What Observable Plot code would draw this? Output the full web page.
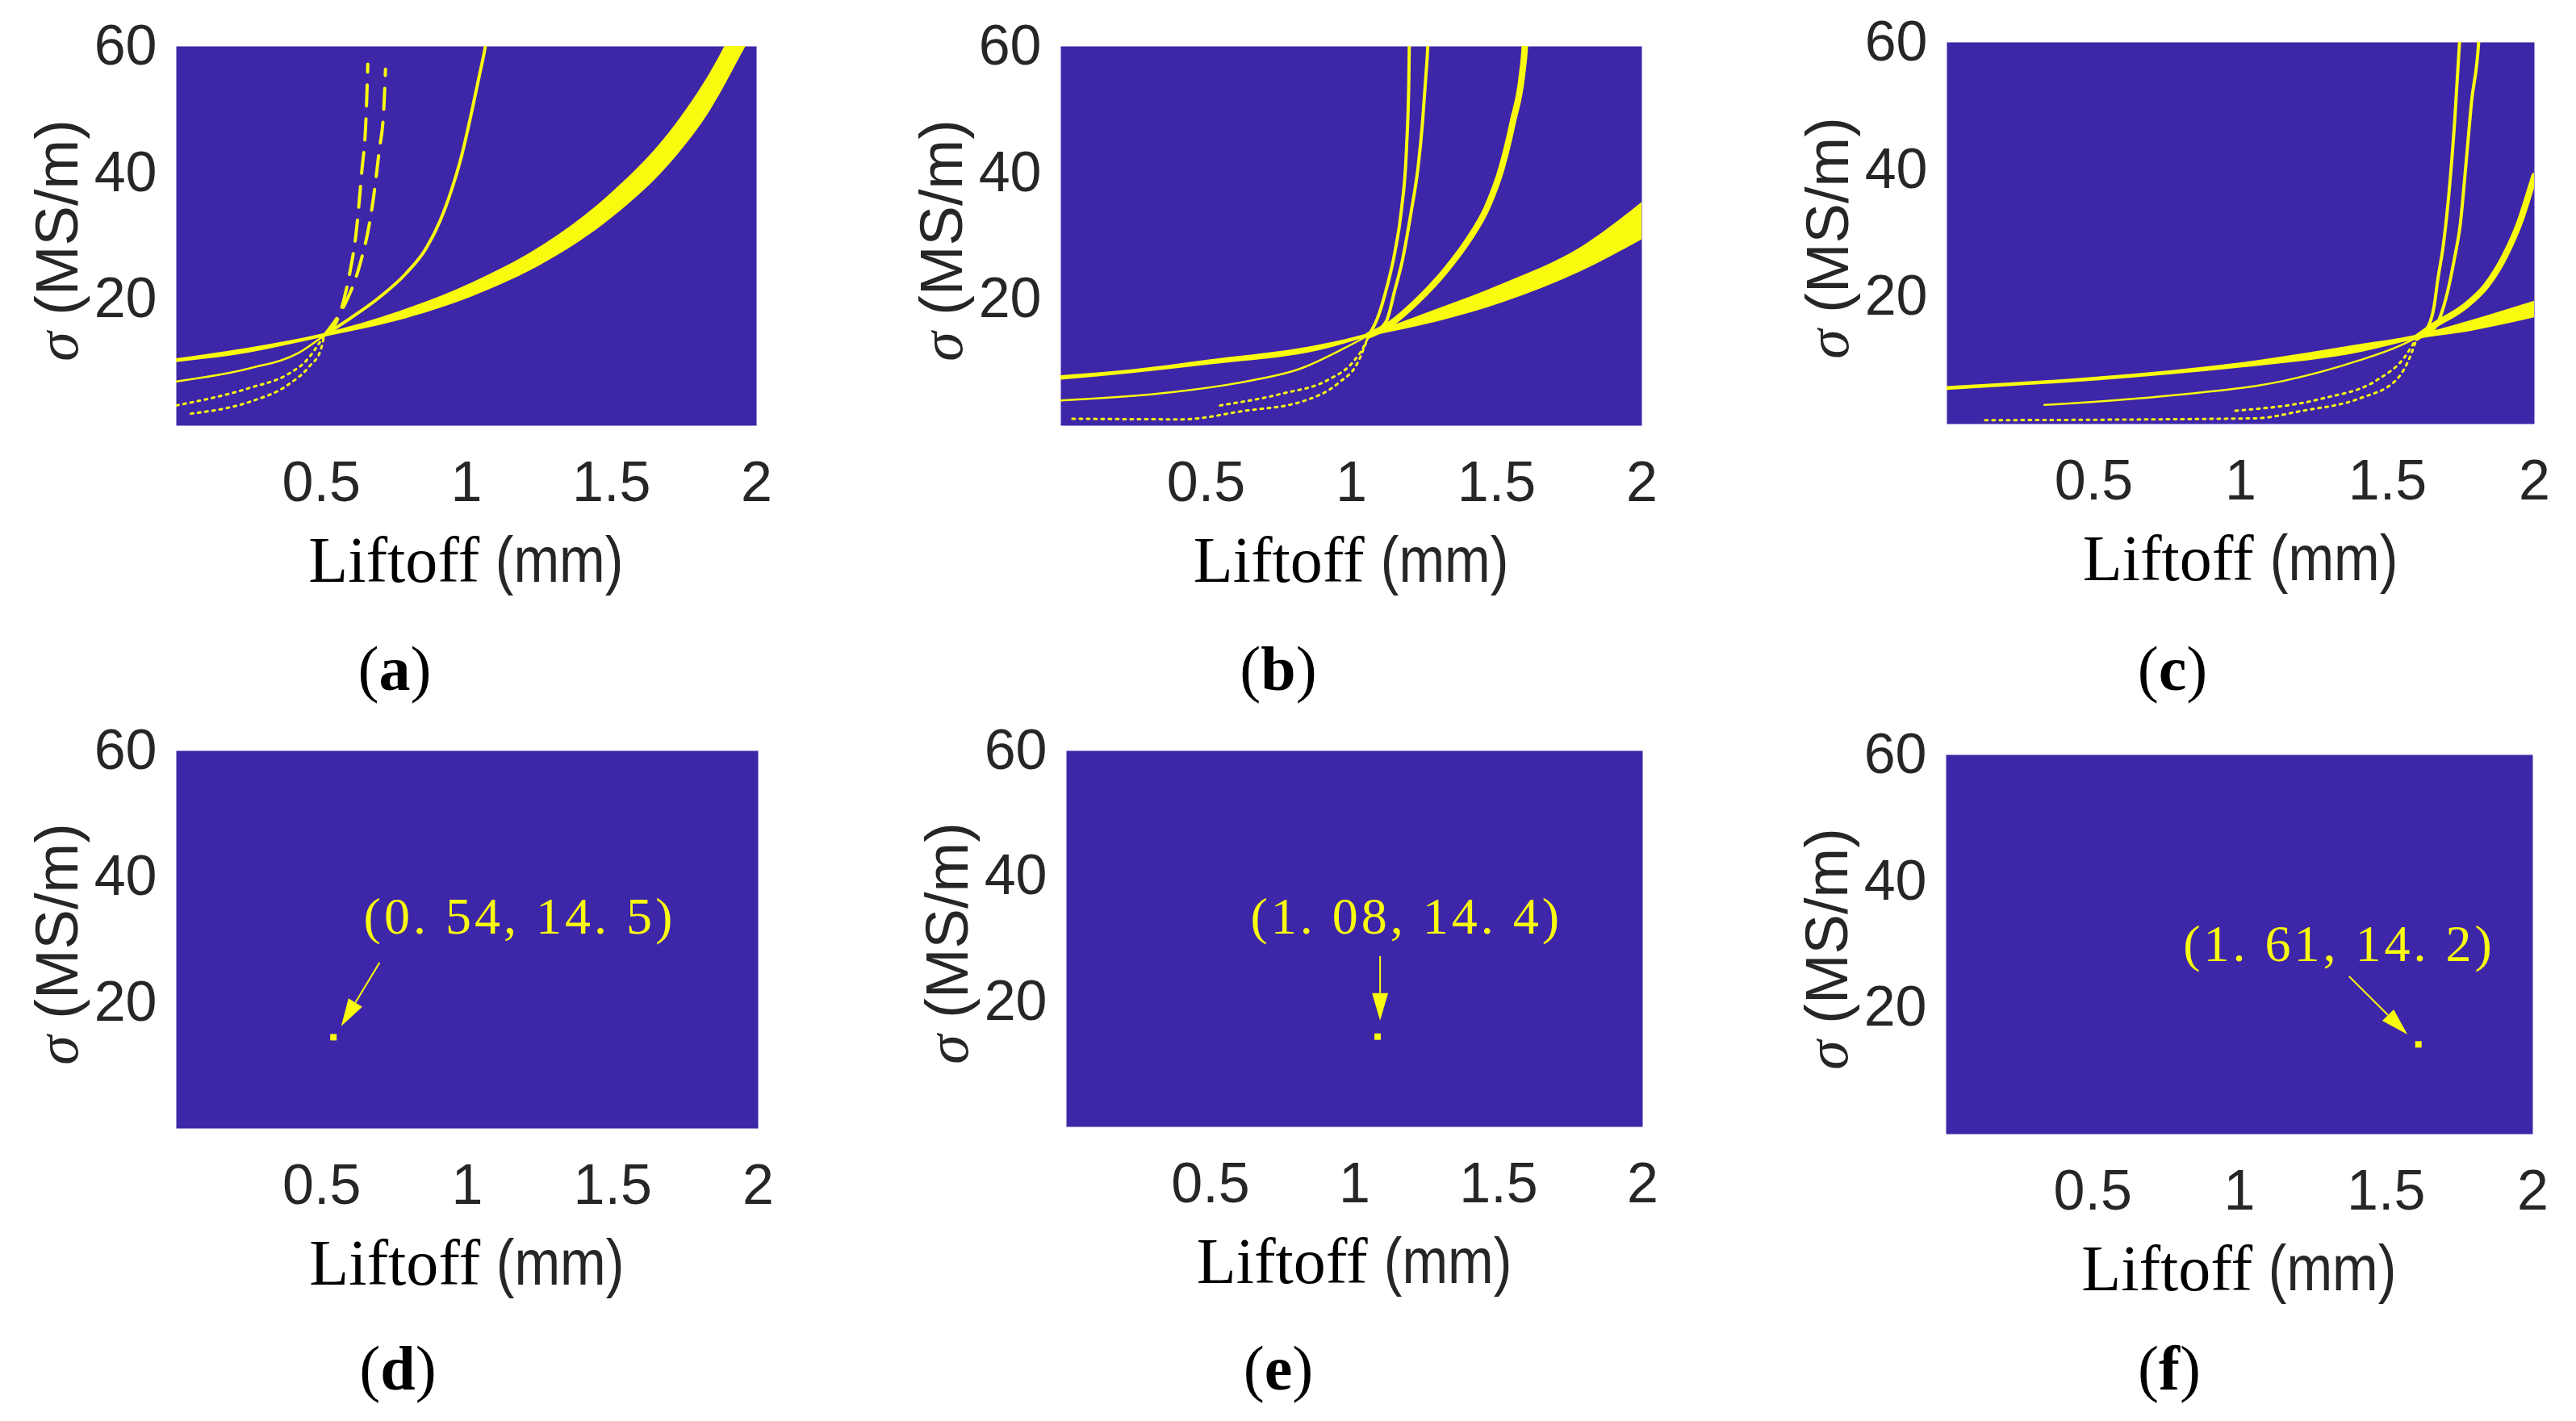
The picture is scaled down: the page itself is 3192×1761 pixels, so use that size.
<!DOCTYPE html>
<html><head><meta charset="utf-8">
<script src="https://cdn.jsdelivr.net/npm/d3@7"></script>
<script src="https://cdn.jsdelivr.net/npm/@observablehq/plot@0.6"></script>
<style>
body{margin:0;background:#fff;}
#fig{position:relative;width:3192px;height:1761px;background:#fff;overflow:hidden;}
.lbl{position:absolute;white-space:nowrap;line-height:1;color:#000;}
.xt{transform:translate(-50%,-50%);font-size:80px;}
.yt{transform:translate(-50%,-50%) rotate(-90deg);font-size:74px;color:#262626;font-family:'Liberation Sans',Arial,sans-serif;}
.sub{transform:translate(-50%,-50%);font-size:78px;font-family:'Liberation Serif','Times New Roman',serif;}
.serif{font-family:'Liberation Serif','Times New Roman',serif;}
.narrow{display:inline-block;transform:scaleX(0.85);transform-origin:left center;margin-right:-28px;font-family:'Liberation Sans',Arial,sans-serif;color:#262626;}
</style></head><body><div id="fig"></div>
<script>
// ---------- data ----------
const xTicks = [0.5, 1, 1.5, 2];
const yTicks = [20, 40, 60];
const panelIds = ["a", "b", "c", "d", "e", "f"];

// panel (a)
const a_bandX  = [0, 0.25, 0.51, 0.765, 1.02, 1.276, 1.5, 1.72, 1.84, 1.96, 2.0];
const a_bandLo = [10.0, 11.5, 14.0, 16.6, 20.4, 25.9, 32.8, 42.4, 49.8, 59.7, 63.0];
const a_bandHi = [10.6, 12.3, 14.6, 18.0, 22.6, 28.9, 36.8, 47.6, 55.8, 66.3, 70.0];
const a_midLow = [[0,7.0],[0.255,9.1],[0.421,11.5],[0.51,14.3]];
const a_midHigh = [[0.51,14.3],[0.6,17.0],[0.7,20.3],[0.79,24.0],[0.86,28.0],[0.91,32.5],[0.95,37.5],[0.985,43],[1.015,49],[1.045,55.5],[1.065,60],[1.075,63]];
const a_steep1Low = [[0,3.2],[0.255,6.0],[0.383,8.1],[0.446,10.2],[0.51,14.3]];
const a_steep2Low = [[0.05,1.9],[0.255,3.8],[0.383,6.4],[0.459,9.4],[0.497,11.9],[0.51,14.3]];
const a_steep1High = [[0.51,14.3],[0.561,17.4],[0.58,20.4],[0.6,24.7],[0.619,30.2],[0.638,39.6],[0.655,50],[0.66,57.2]];
const a_steep2High = [[0.51,14.3],[0.593,20.4],[0.619,23.4],[0.638,26.4],[0.66,30.6],[0.68,36.2],[0.699,43.4],[0.715,50],[0.721,56.4]];

// panel (b)
const b_bandX  = [0, 0.255, 0.51, 0.893, 1.06, 1.276, 1.53, 1.786, 2.0];
const b_bandLo = [7.2, 8.3, 9.6, 11.9, 14.0, 16.2, 19.6, 24.3, 29.4];
const b_bandHi = [7.9, 8.9, 10.4, 12.8, 14.6, 18.1, 22.6, 28.1, 35.3];
const b_midLow = [[0,4.0],[0.383,5.3],[0.638,7.0],[0.829,9.1],[0.969,12.1],[1.06,14.3]];
const b_midHigh = [[1.06,14.3],[1.122,15.7],[1.224,19.6],[1.327,24.7],[1.403,29.4],[1.467,34.5],[1.518,40.9],[1.556,48.1],[1.588,55.7],[1.597,60],[1.6,63]];
const b_steep1Low = [[0.548,3.2],[0.765,5.1],[0.918,7.2],[1.008,10.2],[1.046,12.8],[1.06,14.3]];
const b_steep2Low = [[0.04,1.1],[0.42,1.0],[0.625,2.3],[0.829,3.8],[0.957,6.8],[1.02,9.8],[1.06,14.3]];
const b_steep1High = [[1.06,14.3],[1.09,17],[1.12,21.5],[1.15,27.5],[1.172,34],[1.19,44],[1.198,55],[1.2,62]];
const b_steep2High = [[1.06,14.3],[1.12,16.5],[1.15,21.5],[1.175,26],[1.205,33.6],[1.23,41],[1.245,48],[1.256,55],[1.263,60],[1.266,64]];

// panel (c)
const c_bandX  = [0, 0.51, 1.02, 1.403, 1.6, 1.786, 2.0];
const c_bandLo = [5.3, 6.8, 8.9, 11.2, 13.3, 14.6, 16.7];
const c_bandHi = [5.9, 7.4, 9.75, 12.5, 14.0, 16.3, 19.3];
const c_midLow = [[0.332,3.0],[0.765,4.5],[1.148,6.8],[1.403,10.0],[1.531,12.1],[1.6,13.6]];
const c_midHigh = [[1.6,13.6],[1.658,15.5],[1.76,18.4],[1.837,21.8],[1.9,26.5],[1.952,32.0],[1.99,37.5],[2.0,39]];
const c_steep1Low = [[0.982,2.1],[1.276,4.0],[1.467,7.0],[1.556,10.4],[1.6,13.6]];
const c_steep2Low = [[0.13,0.6],[1.05,0.9],[1.212,2.1],[1.403,4.0],[1.531,7.0],[1.582,11.2],[1.6,13.6]];
const c_steep1High = [[1.6,13.6],[1.64,15.5],[1.658,18.4],[1.671,22.7],[1.69,28.2],[1.709,36.3],[1.728,47.3],[1.745,60],[1.75,64]];
const c_steep2High = [[1.6,13.6],[1.658,15],[1.696,19.3],[1.728,26.1],[1.747,31.2],[1.767,40.9],[1.786,50.7],[1.81,60],[1.815,64]];

// panels (d)-(f): solutions
const solX = [0.54, 1.08, 1.61];
const solY = [14.5, 14.4, 14.2];
const solText = ["(0. 54, 14. 5)", "(1. 08, 14. 4)", "(1. 61, 14. 2)"];
// annotation anchors (data coordinates)
const labelX = [1.18, 1.18, 1.34];
const labelY = [31.0, 30.8, 27.4];
const arrowFrom = [[0.70,26.3],[1.09,27.2],[1.375,24.9]];
const arrowTo   = [[0.568,16.2],[1.09,16.9],[1.574,15.7]];

// ---------- layout & style ----------
const YELLOW = "#F9FB0E", BLUE = "#3E26A8";
const rects = [
  {l:218,  t:57,  w:719, h:470},
  {l:1314, t:57,  w:720, h:470},
  {l:2412, t:52,  w:728, h:473},
  {l:218,  t:930, w:721, h:468},
  {l:1321, t:930, w:714, h:466},
  {l:2411, t:935, w:727, h:470}
];
const subPos = [[489,829],[1584,829],[2692,829],[493,1696],[1584,1696],[2688,1696]];
const styleOf = {
  thin:  {strokeWidth: 2.5},
  line:  {strokeWidth: 4},
  thick: {strokeWidth: 8},
  dash:  {strokeWidth: 4, strokeDasharray: "26,16"},
  dot:   {strokeWidth: 3, strokeDasharray: "3,6"}
};
const zip = (xs, lo, hi) => xs.map((x, i) => ({x, lo: lo[i], hi: hi[i]}));
const topPanels = [
  {band: zip(a_bandX, a_bandLo, a_bandHi), curves: [
    [a_midLow, "thin"], [a_midHigh, "line"], [a_steep1Low, "dot"], [a_steep2Low, "dot"],
    [a_steep1High, "dash"], [a_steep2High, "dash"]]},
  {band: zip(b_bandX, b_bandLo, b_bandHi), curves: [
    [b_midLow, "thin"], [b_midHigh, "thick"], [b_steep1Low, "dot"], [b_steep2Low, "dot"],
    [b_steep1High, "line"], [b_steep2High, "line"]]},
  {band: zip(c_bandX, c_bandLo, c_bandHi), curves: [
    [c_midLow, "thin"], [c_midHigh, "thick"], [c_steep1Low, "dot"], [c_steep2Low, "dot"],
    [c_steep1High, "line"], [c_steep2High, "line"]]}
];

const fig = document.getElementById("fig");
const mL = 140, mR = 70, mT = 20, mB = 140;

function addLabel(cls, x, y, html) {
  const d = document.createElement("div");
  d.className = "lbl " + cls;
  d.style.left = x + "px"; d.style.top = y + "px";
  d.innerHTML = html;
  fig.appendChild(d);
}

panelIds.forEach((id, i) => {
  const r = rects[i];
  const marks = [Plot.frame({fill: BLUE, stroke: "none"})];
  if (i < 3) {
    const p = topPanels[i];
    marks.push(Plot.areaY(p.band, {x: "x", y1: "lo", y2: "hi", fill: YELLOW, curve: "monotone-x", clip: true}));
    for (const [pts, kind] of p.curves) {
      marks.push(Plot.line(pts, {x: d => d[0], y: d => d[1], stroke: YELLOW, curve: "monotone-x", clip: true, ...styleOf[kind]}));
    }
  } else {
    const k = i - 3;
    marks.push(Plot.dot([{x: solX[k], y: solY[k]}], {x: "x", y: "y", symbol: "square", r: 4.5, fill: YELLOW, stroke: "none"}));
    marks.push(Plot.text([{x: labelX[k], y: labelY[k], t: solText[k]}], {
      x: "x", y: "y", text: "t", fill: YELLOW, fontSize: 64, lineAnchor: "bottom", textAnchor: "middle",
      fontFamily: "'Liberation Serif','Times New Roman',serif"}));
  }
  const plot = Plot.plot({
    width: r.w + mL + mR, height: r.h + mT + mB,
    marginLeft: mL, marginRight: mR, marginTop: mT, marginBottom: mB,
    style: {background: "transparent", overflow: "visible", fontFamily: "'Liberation Sans',Arial,sans-serif", fontSize: "70px", color: "#262626"},
    x: {domain: [0, 2], ticks: xTicks, tickSize: 0, tickPadding: 44, label: null, tickFormat: d => String(d)},
    y: {domain: [0, 60], ticks: yTicks, tickSize: 0, tickPadding: 24, label: null},
    marks
  });
  plot.style.position = "absolute";
  plot.style.left = (r.l - mL) + "px";
  plot.style.top = (r.t - mT) + "px";
  plot.style.maxWidth = "none";
  if (i >= 3) {
    const k = i - 3;
    plot.querySelectorAll('g[aria-label="text"] text').forEach(t => t.setAttribute("letter-spacing", "4"));
    const sx = plot.scale("x"), sy = plot.scale("y");
    const x1 = sx.apply(arrowFrom[k][0]), y1 = sy.apply(arrowFrom[k][1]);
    const x2 = sx.apply(arrowTo[k][0]), y2 = sy.apply(arrowTo[k][1]);
    const ang = Math.atan2(y2 - y1, x2 - x1), L = 34, W = 10;
    const bx = x2 - L * Math.cos(ang), by = y2 - L * Math.sin(ang);
    const px = -Math.sin(ang) * W, py = Math.cos(ang) * W;
    const g = d3.select(plot).append("g");
    g.append("line").attr("x1", x1).attr("y1", y1).attr("x2", bx).attr("y2", by)
      .attr("stroke", YELLOW).attr("stroke-width", 2);
    g.append("polygon").attr("points", `${x2},${y2} ${bx + px},${by + py} ${bx - px},${by - py}`)
      .attr("fill", YELLOW);
  }
  fig.appendChild(plot);

  addLabel("xt", r.l + r.w / 2, r.t + r.h + 167,
    '<span class="serif">Liftoff</span> <span class="narrow">(mm)</span>');
  addLabel("yt", r.l - 147, r.t + r.h / 2 + 6,
    '<span class="serif" style="font-style:italic">σ</span> (MS/m)');
  addLabel("sub", subPos[i][0], subPos[i][1], '(<b>' + id + '</b>)');
});
</script></body></html>
